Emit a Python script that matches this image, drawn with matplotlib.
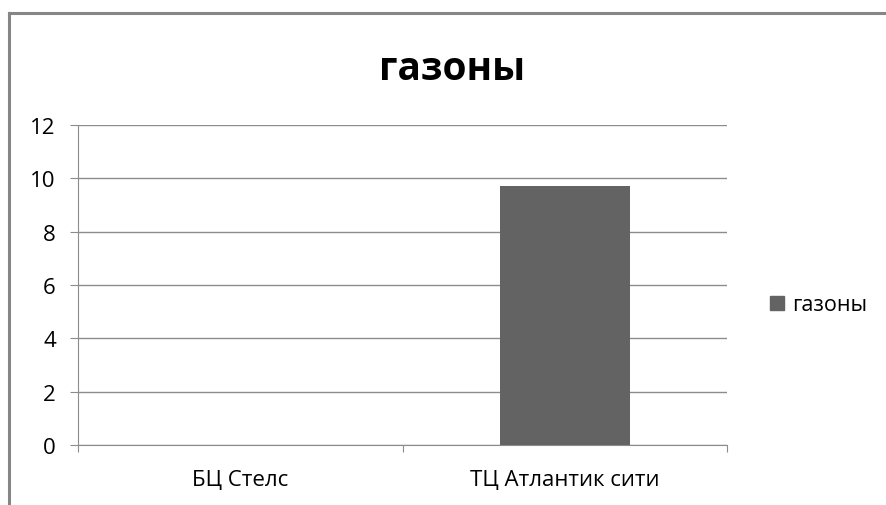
import matplotlib.pyplot as plt
from matplotlib.lines import Line2D

categories = ['БЦ Стелс', 'ТЦ Атлантик сити']
values = [0, 9.7]
series_name = 'газоны'
title = 'газоны'

W, H = 886, 506
plt.rcParams['font.family'] = ['Open Sans', 'DejaVu Sans']

fig = plt.figure(figsize=(W / 100, H / 100), dpi=100)

# outer chart frame (top and left visible)
fig.add_artist(Line2D([9 / W, 1], [1 - 14 / H, 1 - 14 / H], color='#868686', lw=2.2))
fig.add_artist(Line2D([9 / W, 9 / W], [0, 1 - 14 / H], color='#868686', lw=2.2))

ax = fig.add_axes([78 / W, (H - 446) / H, (727 - 78) / W, (446 - 126) / H])
x = range(len(categories))
bars = ax.bar(x, values, width=0.4, color='#636363', label=series_name, zorder=3)

ax.set_xlim(-0.5, len(categories) - 0.5)
ax.set_ylim(0, 12)
ax.set_yticks(range(0, 13, 2))
ax.yaxis.grid(True, color='#8c8c8c', lw=1)
ax.set_axisbelow(True)

ax.set_xticks([i - 0.5 for i in range(len(categories) + 1)])
ax.set_xticklabels([])
ax.set_xticks(list(x), minor=True)
ax.set_xticklabels(categories, minor=True)
ax.tick_params(axis='x', which='minor', length=0, pad=17, labelsize=16, colors='#000000')
ax.tick_params(axis='x', which='major', length=5, color='#8c8c8c')
ax.tick_params(axis='y', length=6, color='#8c8c8c', labelsize=16, pad=10)

for s in ['top', 'right']:
    ax.spines[s].set_visible(False)
for s in ['left', 'bottom']:
    ax.spines[s].set_color('#8c8c8c')

fig.text(452 / W, 1 - 70 / H, title, ha='center', va='center', fontsize=28, fontweight='bold')

# square legend key
key = Line2D([], [], marker='s', ls='', color='#636363', markersize=9.5, label=series_name)
ax.legend(handles=[key], loc='center left', bbox_to_anchor=(749 / W, 1 - 306 / H),
          bbox_transform=fig.transFigure, frameon=False, fontsize=15.5,
          handlelength=0.8, handletextpad=0.3)

fig.savefig('out.png', dpi=100)
